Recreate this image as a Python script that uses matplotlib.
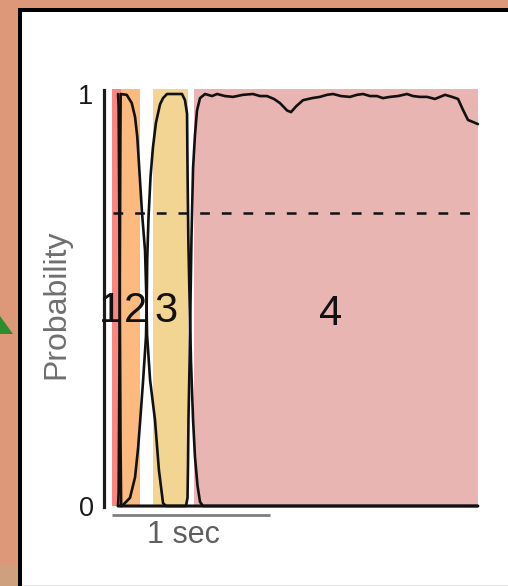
import matplotlib
matplotlib.use("Agg")
import matplotlib.pyplot as plt
from matplotlib.patches import Rectangle, Polygon
from matplotlib.lines import Line2D

plt.rcParams['font.family'] = ['Liberation Sans', 'DejaVu Sans']

# ---------------- data ----------------
state_labels = ['1', '2', '3', '4']
band_starts = [0.0, 0.057, 0.259, 0.519]
band_ends = [0.057, 0.177, 0.481, 2.316]
band_colors = ['#F9877F', '#FDBA7E', '#F2D592', '#E8B5B3']
label_t = [-0.012, 0.148, 0.339, 1.386]
label_p = [0.473, 0.473, 0.473, 0.466]

threshold = 0.71
threshold_t = [0.006, 2.266]

t1 = [0.038, 0.042, 0.048, 0.054, 0.058, 2.316]
p1 = [1.0, 0.97, 0.6, 0.15, 0.0, 0.0]

t2 = [0.038, 0.042, 0.048, 0.053, 0.055, 0.093, 0.125, 0.146, 0.160, 0.173,
      0.190, 0.209, 0.218, 0.222, 0.241, 0.272, 0.297, 0.323, 0.342, 2.316]
p2 = [0.0, 0.03, 0.4, 0.9, 1.0, 0.998, 0.978, 0.944, 0.896, 0.816,
      0.711, 0.62, 0.5, 0.415, 0.306, 0.209, 0.087, 0.007, 0.0, 0.0]

t3 = [0.038, 0.063, 0.089, 0.114, 0.146, 0.165, 0.177, 0.196, 0.215, 0.220,
      0.223, 0.231, 0.244, 0.259, 0.278, 0.304, 0.323, 0.348, 0.443, 0.462,
      0.475, 0.478, 0.483, 0.491, 0.500, 0.513, 0.525, 0.541, 0.557, 0.576, 2.316]
p3 = [0.0, 0.0, 0.01, 0.02, 0.07, 0.14, 0.2, 0.3, 0.41, 0.5,
      0.6, 0.7, 0.8, 0.87, 0.93, 0.975, 0.99, 1.0, 1.0, 0.985,
      0.952, 0.82, 0.65, 0.5, 0.35, 0.21, 0.12, 0.05, 0.01, 0.0, 0.0]

t4 = [0.038, 0.468, 0.478, 0.481, 0.484, 0.491, 0.497, 0.503, 0.513, 0.525,
      0.538, 0.557, 0.589, 0.633, 0.665, 0.715, 0.766, 0.829, 0.892, 0.937,
      0.981, 1.025, 1.063, 1.108, 1.133, 1.165, 1.209, 1.266, 1.316, 1.361,
      1.399, 1.449, 1.506, 1.551, 1.589, 1.633, 1.677, 1.715, 1.759, 1.810,
      1.867, 1.905, 1.949, 1.994, 2.044, 2.108, 2.152, 2.190, 2.222, 2.253,
      2.285, 2.316]
p4 = [0.0, 0.0, 0.02, 0.1, 0.21, 0.35, 0.5, 0.65, 0.82, 0.9,
      0.96, 0.99, 1.0, 0.995, 1.0, 0.995, 0.993, 0.998, 1.0, 0.995,
      0.995, 0.988, 0.978, 0.96, 0.956, 0.97, 0.985, 0.99, 0.993, 0.998,
      1.0, 0.995, 0.993, 0.998, 1.0, 0.995, 0.995, 0.990, 0.993, 0.995,
      1.0, 0.995, 0.993, 0.993, 0.988, 0.998, 0.993, 0.988, 0.961, 0.937,
      0.932, 0.927]

scale_bar = [0.0, 1.0]
scale_label = '1 sec'
y_ticks = [0, 1]
y_tick_labels = ['0', '1']
y_label = 'Probability'

# ---------------- figure ----------------
W, H = 508, 586
fig = plt.figure(figsize=(W / 100, H / 100), dpi=100, facecolor='white')


def fx(x):
    return x / W


def fy(y):
    return 1 - y / H


def frect(x0, y0, x1, y1, color):
    fig.patches.append(Rectangle((fx(x0), fy(y1)), fx(x1) - fx(x0), fy(y0) - fy(y1),
                                 transform=fig.transFigure, facecolor=color,
                                 edgecolor='none', zorder=0))


frect(0, 0, 18, H, '#DC9878')
frect(0, 0, W, 8, '#DC9878')
frect(0, 566, 18, H, '#CFA07D')
frect(18, 8, 22, H, '#000000')
frect(18, 8, W, 12, '#000000')
fig.patches.append(Polygon([(fx(0), fy(316)), (fx(13), fy(334)), (fx(0), fy(334))],
                           closed=True, transform=fig.transFigure,
                           facecolor='#2E8B2E', edgecolor='none', zorder=1))
fig.lines.append(Line2D([fx(22), 1], [fy(585), fy(585)], transform=fig.transFigure,
                        color='#E4E4E4', lw=0.8))

ax = fig.add_axes([fx(104), fy(506), (478 - 104) / W, (506 - 89) / H])
ax.set_facecolor('none')
ax.set_xlim(-8 / 158, 366 / 158)
ax.set_ylim(0, 417 / 412)

for s0, s1, c in zip(band_starts, band_ends, band_colors):
    ax.axvspan(s0, s1, ymin=0, ymax=1, facecolor=c, edgecolor='none', zorder=0)

for t, p in ((t1, p1), (t2, p2), (t3, p3), (t4, p4)):
    ax.plot(t, p, color='#111111', lw=1.9, clip_on=False, zorder=3,
            solid_joinstyle='round', solid_capstyle='round')

ax.plot(threshold_t, [threshold, threshold], color='#111111', lw=1.8,
        linestyle=(0, (7.0 / 1.8, 8.6 / 1.8)), zorder=4)

for lab, t, p in zip(state_labels, label_t, label_p):
    ax.text(t, p, lab, fontsize=30, ha='center', va='center', color='#111111',
            zorder=5)

for side in ('top', 'right', 'bottom'):
    ax.spines[side].set_visible(False)
ax.spines['left'].set_bounds(-0.003, 1.01)
ax.spines['left'].set_linewidth(2.3)
ax.spines['left'].set_color('#1c1c1c')
ax.set_xticks([])
ax.set_yticks(y_ticks)
ax.set_yticklabels(y_tick_labels, fontsize=19.5, color='#1a1a1a')
ax.tick_params(axis='y', length=0, pad=7.5)

ax.plot(scale_bar, [-0.022, -0.022], color='#7f7f7f', lw=2.0, clip_on=False,
        solid_capstyle='butt')
ax.text(0.452, -0.07, scale_label, fontsize=22, color='#5f5f5f',
        ha='center', va='center')

fig.text(fx(56), fy(304), y_label, rotation=90, fontsize=23, color='#6f6f6f',
         ha='center', va='center')

fig.savefig('out.png', dpi=100, facecolor='white')
